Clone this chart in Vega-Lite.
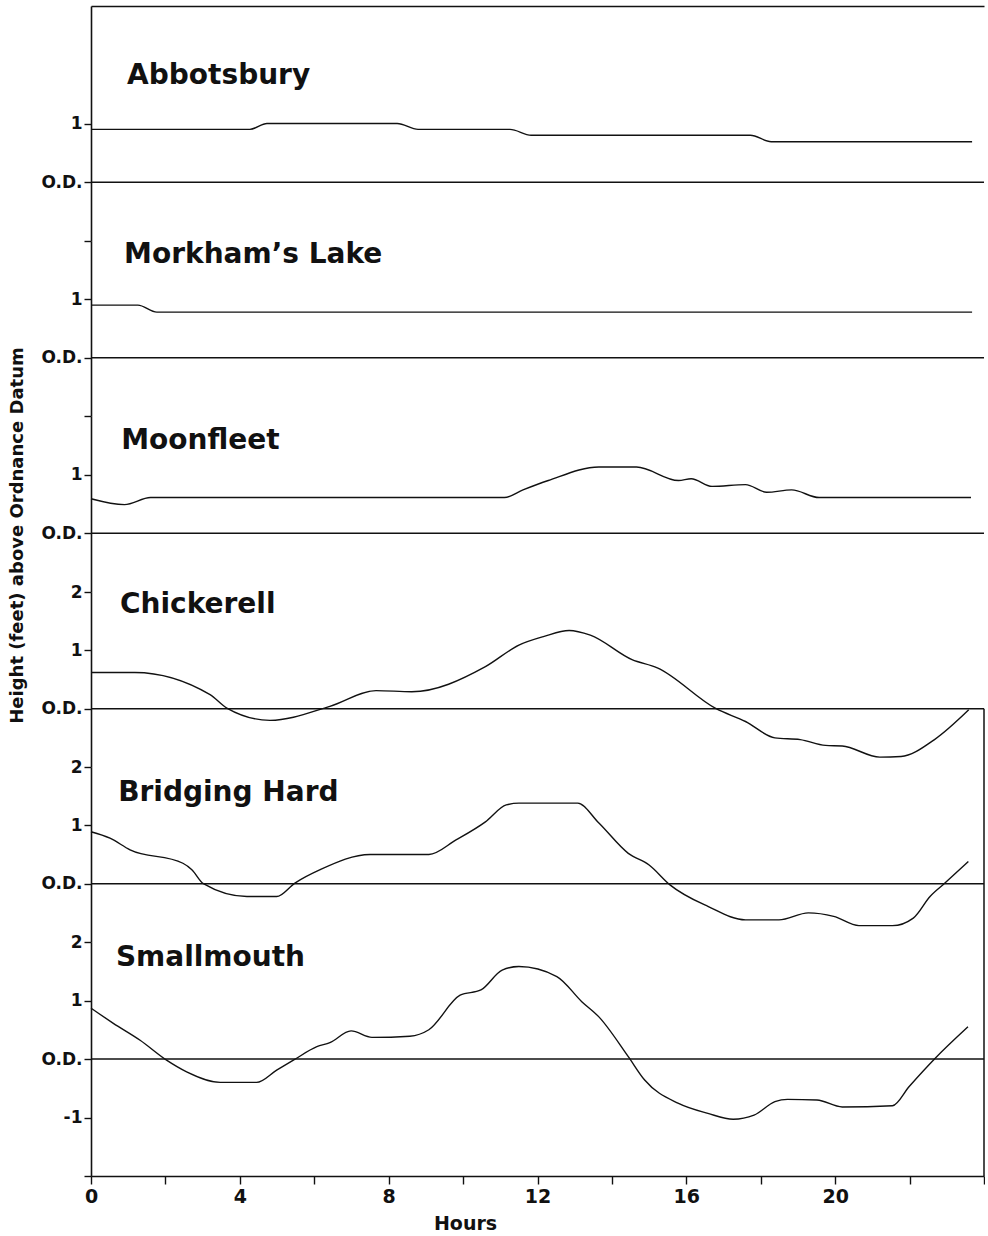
{
  "$schema": "https://vega.github.io/schema/vega-lite/v6.json",
  "background": "white",
  "padding": {"left": 7, "top": 6, "right": 0, "bottom": 0},
  "spacing": 0,
  "bounds": "flush",
  "datasets": {
    "tides": [
      {"station": "Abbotsbury", "hour": 0, "height": 0.9},
      {"station": "Abbotsbury", "hour": 4.27, "height": 0.9},
      {"station": "Abbotsbury", "hour": 4.73, "height": 1.0},
      {"station": "Abbotsbury", "hour": 8.23, "height": 1.0},
      {"station": "Abbotsbury", "hour": 8.79, "height": 0.9},
      {"station": "Abbotsbury", "hour": 11.26, "height": 0.9},
      {"station": "Abbotsbury", "hour": 11.83, "height": 0.8},
      {"station": "Abbotsbury", "hour": 17.72, "height": 0.8},
      {"station": "Abbotsbury", "hour": 18.28, "height": 0.69},
      {"station": "Abbotsbury", "hour": 23.68, "height": 0.69},

      {"station": "Morkham", "hour": 0, "height": 0.9},
      {"station": "Morkham", "hour": 1.26, "height": 0.9},
      {"station": "Morkham", "hour": 1.77, "height": 0.78},
      {"station": "Morkham", "hour": 23.68, "height": 0.78},

      {"station": "Moonfleet", "hour": 0, "height": 0.59},
      {"station": "Moonfleet", "hour": 0.9, "height": 0.49},
      {"station": "Moonfleet", "hour": 1.6, "height": 0.61},
      {"station": "Moonfleet", "hour": 11.11, "height": 0.61},
      {"station": "Moonfleet", "hour": 11.61, "height": 0.74},
      {"station": "Moonfleet", "hour": 12.29, "height": 0.9},
      {"station": "Moonfleet", "hour": 13.65, "height": 1.13},
      {"station": "Moonfleet", "hour": 14.66, "height": 1.13},
      {"station": "Moonfleet", "hour": 15.79, "height": 0.9},
      {"station": "Moonfleet", "hour": 16.13, "height": 0.93},
      {"station": "Moonfleet", "hour": 16.69, "height": 0.8},
      {"station": "Moonfleet", "hour": 17.59, "height": 0.83},
      {"station": "Moonfleet", "hour": 18.16, "height": 0.7},
      {"station": "Moonfleet", "hour": 18.83, "height": 0.74},
      {"station": "Moonfleet", "hour": 19.57, "height": 0.61},
      {"station": "Moonfleet", "hour": 23.65, "height": 0.61},

      {"station": "Chickerell", "hour": 0, "height": 0.62},
      {"station": "Chickerell", "hour": 1.18, "height": 0.62},
      {"station": "Chickerell", "hour": 3.2, "height": 0.24},
      {"station": "Chickerell", "hour": 3.65, "height": 0.01},
      {"station": "Chickerell", "hour": 4.81, "height": -0.2},
      {"station": "Chickerell", "hour": 6.42, "height": 0.04},
      {"station": "Chickerell", "hour": 7.66, "height": 0.31},
      {"station": "Chickerell", "hour": 8.62, "height": 0.29},
      {"station": "Chickerell", "hour": 10.6, "height": 0.72},
      {"station": "Chickerell", "hour": 11.5, "height": 1.09},
      {"station": "Chickerell", "hour": 12.18, "height": 1.24},
      {"station": "Chickerell", "hour": 12.85, "height": 1.34},
      {"station": "Chickerell", "hour": 13.42, "height": 1.26},
      {"station": "Chickerell", "hour": 14.54, "height": 0.84},
      {"station": "Chickerell", "hour": 15.22, "height": 0.7},
      {"station": "Chickerell", "hour": 16.8, "height": 0.0},
      {"station": "Chickerell", "hour": 17.59, "height": -0.22},
      {"station": "Chickerell", "hour": 18.38, "height": -0.5},
      {"station": "Chickerell", "hour": 19.06, "height": -0.53},
      {"station": "Chickerell", "hour": 19.74, "height": -0.63},
      {"station": "Chickerell", "hour": 20.19, "height": -0.64},
      {"station": "Chickerell", "hour": 21.2, "height": -0.83},
      {"station": "Chickerell", "hour": 21.77, "height": -0.82},
      {"station": "Chickerell", "hour": 22.67, "height": -0.53},
      {"station": "Chickerell", "hour": 23.59, "height": -0.02},

      {"station": "Bridging Hard", "hour": 0, "height": 0.89},
      {"station": "Bridging Hard", "hour": 0.51, "height": 0.78},
      {"station": "Bridging Hard", "hour": 1.05, "height": 0.58},
      {"station": "Bridging Hard", "hour": 2.47, "height": 0.35},
      {"station": "Bridging Hard", "hour": 2.71, "height": 0.24},
      {"station": "Bridging Hard", "hour": 3.02, "height": 0.0},
      {"station": "Bridging Hard", "hour": 4.19, "height": -0.22},
      {"station": "Bridging Hard", "hour": 4.99, "height": -0.22},
      {"station": "Bridging Hard", "hour": 5.48, "height": 0.01},
      {"station": "Bridging Hard", "hour": 6.16, "height": 0.24},
      {"station": "Bridging Hard", "hour": 7.5, "height": 0.5},
      {"station": "Bridging Hard", "hour": 9.08, "height": 0.5},
      {"station": "Bridging Hard", "hour": 9.81, "height": 0.75},
      {"station": "Bridging Hard", "hour": 10.6, "height": 1.06},
      {"station": "Bridging Hard", "hour": 11.16, "height": 1.35},
      {"station": "Bridging Hard", "hour": 11.5, "height": 1.38},
      {"station": "Bridging Hard", "hour": 13.08, "height": 1.38},
      {"station": "Bridging Hard", "hour": 13.65, "height": 1.04},
      {"station": "Bridging Hard", "hour": 14.44, "height": 0.52},
      {"station": "Bridging Hard", "hour": 15.0, "height": 0.32},
      {"station": "Bridging Hard", "hour": 15.56, "height": -0.02},
      {"station": "Bridging Hard", "hour": 16.58, "height": -0.39},
      {"station": "Bridging Hard", "hour": 17.59, "height": -0.62},
      {"station": "Bridging Hard", "hour": 18.49, "height": -0.62},
      {"station": "Bridging Hard", "hour": 19.28, "height": -0.5},
      {"station": "Bridging Hard", "hour": 19.96, "height": -0.56},
      {"station": "Bridging Hard", "hour": 20.64, "height": -0.72},
      {"station": "Bridging Hard", "hour": 21.54, "height": -0.72},
      {"station": "Bridging Hard", "hour": 22.1, "height": -0.59},
      {"station": "Bridging Hard", "hour": 22.55, "height": -0.22},
      {"station": "Bridging Hard", "hour": 22.95, "height": 0.01},
      {"station": "Bridging Hard", "hour": 23.58, "height": 0.38},

      {"station": "Smallmouth", "hour": 0, "height": 0.87},
      {"station": "Smallmouth", "hour": 0.6, "height": 0.61},
      {"station": "Smallmouth", "hour": 1.32, "height": 0.32},
      {"station": "Smallmouth", "hour": 2.03, "height": -0.02},
      {"station": "Smallmouth", "hour": 2.57, "height": -0.22},
      {"station": "Smallmouth", "hour": 3.47, "height": -0.4},
      {"station": "Smallmouth", "hour": 4.45, "height": -0.4},
      {"station": "Smallmouth", "hour": 4.99, "height": -0.19},
      {"station": "Smallmouth", "hour": 5.44, "height": -0.02},
      {"station": "Smallmouth", "hour": 6.07, "height": 0.21},
      {"station": "Smallmouth", "hour": 6.42, "height": 0.28},
      {"station": "Smallmouth", "hour": 6.99, "height": 0.48},
      {"station": "Smallmouth", "hour": 7.55, "height": 0.37},
      {"station": "Smallmouth", "hour": 8.57, "height": 0.39},
      {"station": "Smallmouth", "hour": 9.08, "height": 0.5},
      {"station": "Smallmouth", "hour": 9.92, "height": 1.09},
      {"station": "Smallmouth", "hour": 10.48, "height": 1.18},
      {"station": "Smallmouth", "hour": 11.05, "height": 1.52},
      {"station": "Smallmouth", "hour": 11.5, "height": 1.58},
      {"station": "Smallmouth", "hour": 12.52, "height": 1.41},
      {"station": "Smallmouth", "hour": 13.19, "height": 0.98},
      {"station": "Smallmouth", "hour": 13.65, "height": 0.72},
      {"station": "Smallmouth", "hour": 14.44, "height": 0.04},
      {"station": "Smallmouth", "hour": 14.88, "height": -0.36},
      {"station": "Smallmouth", "hour": 15.79, "height": -0.76},
      {"station": "Smallmouth", "hour": 16.58, "height": -0.93},
      {"station": "Smallmouth", "hour": 17.26, "height": -1.03},
      {"station": "Smallmouth", "hour": 17.82, "height": -0.96},
      {"station": "Smallmouth", "hour": 18.38, "height": -0.73},
      {"station": "Smallmouth", "hour": 18.72, "height": -0.69},
      {"station": "Smallmouth", "hour": 19.51, "height": -0.7},
      {"station": "Smallmouth", "hour": 20.19, "height": -0.82},
      {"station": "Smallmouth", "hour": 21.54, "height": -0.8},
      {"station": "Smallmouth", "hour": 21.99, "height": -0.47},
      {"station": "Smallmouth", "hour": 22.67, "height": 0.0},
      {"station": "Smallmouth", "hour": 23.57, "height": 0.55}
    ]
  },
  "data": {"name": "tides"},
  "vconcat": [
    {
      "width": 893, "height": 235,
      "layer": [
        {"transform": [{"filter": "datum.station === 'Abbotsbury'"}],
         "mark": {"type": "line", "interpolate": "monotone", "color": "#111", "strokeWidth": 1.4},
         "encoding": {
           "x": {"field": "hour", "type": "quantitative", "scale": {"domain": [0, 24], "nice": false, "zero": false},
                 "axis": {"orient": "top", "ticks": false, "labels": false, "title": null, "domain": true}},
           "y": {"field": "height", "type": "quantitative", "scale": {"domain": [-1, 3], "nice": false, "zero": false},
                 "axis": {"values": [0, 1], "labelExpr": "datum.value === 0 ? 'O.D.' : '' + datum.value", "title": null, "tickSize": 7, "labelPadding": 2}}
         }},
        {"data": {"values": [{}]}, "mark": {"type": "rule", "color": "#111", "strokeWidth": 1.5},
         "encoding": {"y": {"datum": 0, "type": "quantitative"}}},
        {"data": {"values": [{}]}, "mark": {"type": "text", "align": "left", "baseline": "alphabetic", "font": "DejaVu Sans", "fontWeight": "bold", "fontSize": 28, "color": "#111"},
         "encoding": {"x": {"datum": 0.97, "type": "quantitative"}, "y": {"datum": 1.68, "type": "quantitative"}, "text": {"value": "Abbotsbury"}}}
      ]
    },
    {
      "width": 893, "height": 175,
      "layer": [
        {"transform": [{"filter": "datum.station === 'Morkham'"}],
         "mark": {"type": "line", "interpolate": "monotone", "color": "#111", "strokeWidth": 1.4},
         "encoding": {
           "x": {"field": "hour", "type": "quantitative", "scale": {"domain": [0, 24], "nice": false, "zero": false}, "axis": null},
           "y": {"field": "height", "type": "quantitative", "scale": {"domain": [-1, 2], "nice": false, "zero": false},
                 "axis": {"values": [0, 1, 2], "labelExpr": "datum.value === 0 ? 'O.D.' : datum.value === 2 ? '' : '' + datum.value", "title": null, "tickSize": 7, "labelPadding": 2}}
         }},
        {"data": {"values": [{}]}, "mark": {"type": "rule", "color": "#111", "strokeWidth": 1.5},
         "encoding": {"y": {"datum": 0, "type": "quantitative"}}},
        {"data": {"values": [{}]}, "mark": {"type": "text", "align": "left", "baseline": "alphabetic", "font": "DejaVu Sans", "fontWeight": "bold", "fontSize": 28, "color": "#111"},
         "encoding": {"x": {"datum": 0.89, "type": "quantitative"}, "y": {"datum": 1.62, "type": "quantitative"}, "text": {"value": "Morkham’s Lake"}}}
      ]
    },
    {
      "width": 893, "height": 176,
      "layer": [
        {"transform": [{"filter": "datum.station === 'Moonfleet'"}],
         "mark": {"type": "line", "interpolate": "monotone", "color": "#111", "strokeWidth": 1.4},
         "encoding": {
           "x": {"field": "hour", "type": "quantitative", "scale": {"domain": [0, 24], "nice": false, "zero": false}, "axis": null},
           "y": {"field": "height", "type": "quantitative", "scale": {"domain": [-1, 2], "nice": false, "zero": false},
                 "axis": {"values": [0, 1, 2], "labelExpr": "datum.value === 0 ? 'O.D.' : datum.value === 2 ? '' : '' + datum.value", "tickSize": 7, "labelPadding": 2,
                          "title": "Height (feet) above Ordnance Datum", "titleX": -69, "titleY": 119, "titleAngle": 270, "titleAlign": "center", "titleBaseline": "alphabetic", "titleFontSize": 18}}
         }},
        {"data": {"values": [{}]}, "mark": {"type": "rule", "color": "#111", "strokeWidth": 1.5},
         "encoding": {"y": {"datum": 0, "type": "quantitative"}}},
        {"data": {"values": [{}]}, "mark": {"type": "text", "align": "left", "baseline": "alphabetic", "font": "DejaVu Sans", "fontWeight": "bold", "fontSize": 28, "color": "#111"},
         "encoding": {"x": {"datum": 0.81, "type": "quantitative"}, "y": {"datum": 1.43, "type": "quantitative"}, "text": {"value": "Moonfleet"}}}
      ]
    },
    {
      "width": 893, "height": 175,
      "layer": [
        {"transform": [{"filter": "datum.station === 'Chickerell'"}],
         "mark": {"type": "line", "interpolate": "monotone", "color": "#111", "strokeWidth": 1.4},
         "encoding": {
           "x": {"field": "hour", "type": "quantitative", "scale": {"domain": [0, 24], "nice": false, "zero": false}, "axis": null},
           "y": {"field": "height", "type": "quantitative", "scale": {"domain": [-1, 2], "nice": false, "zero": false},
                 "axis": {"values": [0, 1, 2], "labelExpr": "datum.value === 0 ? 'O.D.' : '' + datum.value", "title": null, "tickSize": 7, "labelPadding": 2}}
         }},
        {"data": {"values": [{}]}, "mark": {"type": "rule", "color": "#111", "strokeWidth": 1.5},
         "encoding": {"y": {"datum": 0, "type": "quantitative"}}},
        {"data": {"values": [{}]}, "mark": {"type": "rule", "color": "#111", "strokeWidth": 1.5},
         "encoding": {"x": {"datum": 24, "type": "quantitative"}, "y": {"datum": -1, "type": "quantitative"}, "y2": {"datum": 0}}},
        {"data": {"values": [{}]}, "mark": {"type": "text", "align": "left", "baseline": "alphabetic", "font": "DejaVu Sans", "fontWeight": "bold", "fontSize": 28, "color": "#111"},
         "encoding": {"x": {"datum": 0.78, "type": "quantitative"}, "y": {"datum": 1.64, "type": "quantitative"}, "text": {"value": "Chickerell"}}}
      ]
    },
    {
      "width": 893, "height": 175,
      "layer": [
        {"transform": [{"filter": "datum.station === 'Bridging Hard'"}],
         "mark": {"type": "line", "interpolate": "monotone", "color": "#111", "strokeWidth": 1.4},
         "encoding": {
           "x": {"field": "hour", "type": "quantitative", "scale": {"domain": [0, 24], "nice": false, "zero": false}, "axis": null},
           "y": {"field": "height", "type": "quantitative", "scale": {"domain": [-1, 2], "nice": false, "zero": false},
                 "axis": {"values": [0, 1, 2], "labelExpr": "datum.value === 0 ? 'O.D.' : '' + datum.value", "title": null, "tickSize": 7, "labelPadding": 2}}
         }},
        {"data": {"values": [{}]}, "mark": {"type": "rule", "color": "#111", "strokeWidth": 1.5},
         "encoding": {"y": {"datum": 0, "type": "quantitative"}}},
        {"data": {"values": [{}]}, "mark": {"type": "rule", "color": "#111", "strokeWidth": 1.5},
         "encoding": {"x": {"datum": 24, "type": "quantitative"}, "y": {"datum": -1, "type": "quantitative"}, "y2": {"datum": 2}}},
        {"data": {"values": [{}]}, "mark": {"type": "text", "align": "left", "baseline": "alphabetic", "font": "DejaVu Sans", "fontWeight": "bold", "fontSize": 28, "color": "#111"},
         "encoding": {"x": {"datum": 0.73, "type": "quantitative"}, "y": {"datum": 1.42, "type": "quantitative"}, "text": {"value": "Bridging Hard"}}}
      ]
    },
    {
      "width": 893, "height": 234,
      "layer": [
        {"transform": [{"filter": "datum.station === 'Smallmouth'"}],
         "mark": {"type": "line", "interpolate": "monotone", "color": "#111", "strokeWidth": 1.4},
         "encoding": {
           "x": {"field": "hour", "type": "quantitative", "scale": {"domain": [0, 24], "nice": false, "zero": false},
                 "axis": {"values": [0,1,2,3,4,5,6,7,8,9,10,11,12,13,14,15,16,17,18,19,20,21,22,23,24],
                          "labelExpr": "datum.value % 4 === 0 && datum.value < 24 ? '' + datum.value : ''",
                          "tickSize": 8, "labelPadding": 3, "labelFontSize": 19,
                          "title": "Hours", "titleFontSize": 19, "titleX": 374, "titleY": 53, "titleAlign": "center", "titleBaseline": "alphabetic"}},
           "y": {"field": "height", "type": "quantitative", "scale": {"domain": [-2, 2], "nice": false, "zero": false},
                 "axis": {"values": [-2, -1, 0, 1, 2], "labelExpr": "datum.value === 0 ? 'O.D.' : datum.value === -2 ? '' : '' + datum.value", "title": null, "tickSize": 7, "labelPadding": 2}}
         }},
        {"data": {"values": [{}]}, "mark": {"type": "rule", "color": "#111", "strokeWidth": 1.5},
         "encoding": {"y": {"datum": 0, "type": "quantitative"}}},
        {"data": {"values": [{}]}, "mark": {"type": "rule", "color": "#111", "strokeWidth": 1.5},
         "encoding": {"x": {"datum": 24, "type": "quantitative"}, "y": {"datum": -2, "type": "quantitative"}, "y2": {"datum": 2}}},
        {"data": {"values": [{}]}, "mark": {"type": "text", "align": "left", "baseline": "alphabetic", "font": "DejaVu Sans", "fontWeight": "bold", "fontSize": 28, "color": "#111"},
         "encoding": {"x": {"datum": 0.67, "type": "quantitative"}, "y": {"datum": 1.59, "type": "quantitative"}, "text": {"value": "Smallmouth"}}}
      ]
    }
  ],
  "config": {
    "view": {"stroke": null},
    "axis": {
      "grid": false, "labelFlush": false,
      "domainColor": "#111", "domainWidth": 1.6,
      "tickColor": "#111", "tickWidth": 1.4,
      "labelColor": "#111", "labelFont": "DejaVu Sans", "labelFontWeight": "bold", "labelFontSize": 17,
      "titleColor": "#111", "titleFont": "DejaVu Sans", "titleFontWeight": "bold"
    }
  }
}
